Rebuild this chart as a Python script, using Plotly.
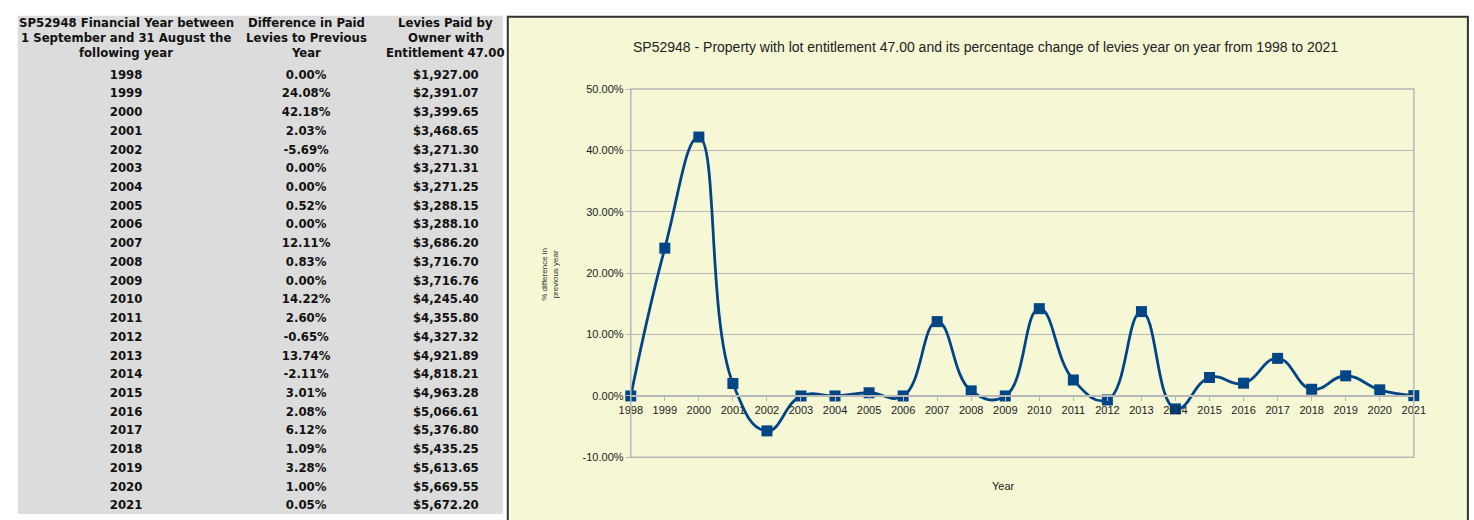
import plotly.graph_objects as go

years = [1998, 1999, 2000, 2001, 2002, 2003, 2004, 2005, 2006, 2007, 2008, 2009,
         2010, 2011, 2012, 2013, 2014, 2015, 2016, 2017, 2018, 2019, 2020, 2021]
pct_change = [0.00, 24.08, 42.18, 2.03, -5.69, 0.00, 0.00, 0.52, 0.00, 12.11, 0.83, 0.00,
              14.22, 2.60, -0.65, 13.74, -2.11, 3.01, 2.08, 6.12, 1.09, 3.28, 1.00, 0.05]
levies = [1927.00, 2391.07, 3399.65, 3468.65, 3271.30, 3271.31, 3271.25, 3288.15, 3288.10,
          3686.20, 3716.70, 3716.76, 4245.40, 4355.80, 4327.32, 4921.89, 4818.21, 4963.28,
          5066.61, 5376.80, 5435.25, 5613.65, 5669.55, 5672.20]
header_lines = [
    ["SP52948 Financial Year between", "1 September and 31 August the", "following year"],
    ["Difference in Paid", "Levies to Previous", "Year"],
    ["Levies Paid by", "Owner with", "Entitlement 47.00"],
]
y_ticks = [-10, 0, 10, 20, 30, 40, 50]

W, H = 1474, 520
def px_x(v): return v / W
def px_y(v): return 1 - v / H

GREY = "#dcdcdc"
YELLOW = "#f6f7d5"
BLUE = "#004586"
GRID = "#b8b8b8"
TFONT = "DejaVu Sans Condensed"
col_centers = [116, 299, 441]
header_rows = [17, 32, 48]
row_px = 19.17
first_row_px = 71

fig = go.Figure()

cols = [[str(y) for y in years],
        [f"{p:.2f}%" for p in pct_change],
        [f"${v:,.2f}" for v in levies]]
for cx, col in zip(col_centers, cols):
    fig.add_trace(go.Scatter(
        x=[cx] * len(years), y=years, text=col, mode="text",
        textposition="middle center",
        textfont=dict(family=TFONT, size=13, color="#111", weight="bold"),
        xaxis="x2", yaxis="y2", showlegend=False, hoverinfo="skip"))

fig.add_trace(go.Scatter(
    x=years, y=pct_change, mode="lines+markers",
    line=dict(color=BLUE, width=2.8, shape="spline", smoothing=1.3),
    marker=dict(symbol="square", size=11, color=BLUE),
    showlegend=False, cliponaxis=False, hoverinfo="skip",
))

ydom = [px_y(462), px_y(85)]
zero_pos = ydom[0] + (0 - y_ticks[0]) / (y_ticks[-1] - y_ticks[0]) * (ydom[1] - ydom[0])

tab_top = years[0] - (first_row_px - 10) / row_px
tab_bot = years[-1] + (H - (first_row_px + row_px * (len(years) - 1))) / row_px

annotations = [
    dict(text="SP52948 - Property with lot entitlement 47.00 and its percentage change of levies year on year from 1998 to 2021",
         xref="paper", yref="paper", x=px_x(990), y=px_y(42), xanchor="center", yanchor="middle",
         showarrow=False, font=dict(size=14, color="#222")),
    dict(text="% difference in<br>previous year", xref="paper", yref="paper",
         x=px_x(547), y=px_y(275), yanchor="middle", xanchor="center",
         showarrow=False, textangle=-90, font=dict(size=8, color="#333")),
    dict(text="Year", xref="paper", yref="paper", x=px_x(1008), y=px_y(491),
         xanchor="center", yanchor="middle", showarrow=False, font=dict(size=11, color="#222")),
]
for cx, lines in zip(col_centers, header_lines):
    for ry, line in zip(header_rows, lines):
        annotations.append(dict(
            text=f"<b>{line}</b>", xref="paper", yref="paper", x=px_x(cx), y=px_y(ry),
            xanchor="center", yanchor="middle", showarrow=False,
            font=dict(family=TFONT, size=13, color="#111")))

fig.update_layout(
    width=W, height=H,
    margin=dict(l=0, r=0, t=0, b=0),
    paper_bgcolor="white", plot_bgcolor=YELLOW,
    font=dict(family="Liberation Sans", color="#222"),
    xaxis=dict(domain=[px_x(629), px_x(1425)], range=[years[0], years[-1]],
               tickmode="array", tickvals=years, ticktext=[str(y) for y in years],
               anchor="free", position=zero_pos,
               showgrid=False, showline=True, linecolor=GRID, linewidth=1.5,
               ticks="outside", ticklen=4, tickcolor=GRID,
               tickfont=dict(size=11, color="#222"), zeroline=False),
    yaxis=dict(domain=ydom, range=[y_ticks[0], y_ticks[-1]],
               tickmode="array", tickvals=y_ticks,
               ticktext=[f"{v:.2f}%" for v in y_ticks],
               showgrid=True, gridcolor=GRID, gridwidth=1,
               showline=True, linecolor=GRID, linewidth=1,
               ticks="outside", ticklen=4, tickcolor=GRID,
               tickfont=dict(size=11, color="#222"), zeroline=False),
    xaxis2=dict(domain=[0, px_x(500)], range=[0, 500], visible=False,
                anchor="y2", fixedrange=True),
    yaxis2=dict(domain=[0, px_y(10)], range=[tab_bot, tab_top], visible=False,
                anchor="x2", fixedrange=True),
    shapes=[
        dict(type="rect", xref="paper", yref="paper", layer="below",
             x0=0, x1=px_x(504), y0=0, y1=1,
             fillcolor="white", line=dict(width=0)),
        dict(type="rect", xref="paper", yref="paper", layer="below",
             x0=px_x(6), x1=px_x(499), y0=0, y1=px_y(10),
             fillcolor=GREY, line=dict(width=0)),
        dict(type="rect", xref="paper", yref="paper", layer="below",
             x0=px_x(504), x1=px_x(1480), y0=px_y(530), y1=px_y(11),
             fillcolor=YELLOW, line=dict(color="#333", width=2)),
        dict(type="rect", xref="x domain", yref="y domain", layer="above",
             x0=0, x1=1, y0=0, y1=1, line=dict(color=GRID, width=1.5)),
    ],
    annotations=annotations,
)

fig.write_html("out.html", config={"displayModeBar": False},
               post_script="document.body.style.margin='0';document.body.style.overflow='hidden';")
